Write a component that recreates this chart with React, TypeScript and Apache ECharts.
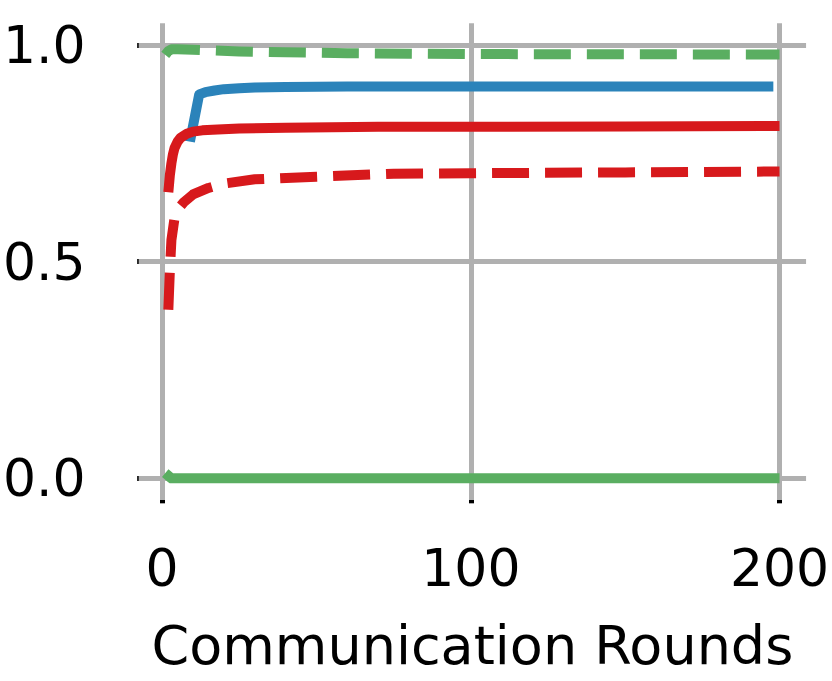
import React, { useEffect, useRef } from "react";
import * as echarts from "echarts";

const xTicks = [0, 100, 200];
const yTicks = [0.0, 0.5, 1.0];
const xTitle = "Communication Rounds";

const greenDashRounds = [1, 2, 3, 5, 10, 25, 40, 60, 80, 100, 150, 200];
const greenDashValues = [0.977, 0.986, 0.99, 0.99, 0.989, 0.985, 0.983, 0.981, 0.98, 0.979, 0.9785, 0.978];

const blueRounds = [9, 12, 14, 17, 20, 25, 30, 40, 60, 100, 150, 198];
const blueValues = [0.777, 0.886, 0.891, 0.895, 0.898, 0.9, 0.902, 0.903, 0.904, 0.904, 0.904, 0.904];

const redRounds = [2, 2.5, 3, 3.5, 4, 5, 6, 8, 10, 13, 18, 25, 40, 70, 100, 150, 200];
const redValues = [0.66, 0.7, 0.727, 0.748, 0.762, 0.777, 0.786, 0.795, 0.8, 0.803, 0.805, 0.807, 0.809, 0.811, 0.811, 0.812, 0.813];

const redDashRounds = [2, 2.5, 3, 4, 5, 7, 10, 15, 20, 30, 50, 75, 100, 150, 200];
const redDashValues = [0.389, 0.48, 0.55, 0.6, 0.62, 0.637, 0.655, 0.67, 0.68, 0.69, 0.696, 0.703, 0.704, 0.706, 0.708];

const greenRounds = [1, 3, 10, 50, 100, 150, 200];
const greenValues = [0.012, 0.0, 0.0, 0.0, 0.0, 0.0, 0.0];

const BLUE = "#2b83ba";
const RED = "#d7191c";
const GREEN = "#5aae61";

const X_MIN = -7.6;
const X_MAX = 208.6;

const zip = (a: number[], b: number[]) => a.map((x, i) => [x, b[i]]);

export default function App() {
  const ref = useRef<HTMLDivElement>(null);
  useEffect(() => {
    document.body.style.margin = "0";
    const chart = echarts.init(ref.current!, null, { renderer: "svg" });
    const font = "DejaVu Sans";
    const mk = (name: string, data: number[][], color: string, dashed: boolean) => ({
      name,
      type: "line",
      data,
      showSymbol: false,
      symbol: "none",
      smooth: false,
      lineStyle: {
        color,
        width: 10,
        type: dashed ? [37, 16] : "solid",
        cap: "butt",
        join: "round",
      },
      z: 10,
    });
    chart.setOption({
      animation: false,
      backgroundColor: "#ffffff",
      grid: { left: 135, right: 25.3, top: 23.3, bottom: 181, containLabel: false },
      xAxis: {
        type: "value",
        min: X_MIN,
        max: X_MAX,
        interval: 100,
        axisLine: { show: false },
        axisTick: { show: true, length: 25, inside: false, lineStyle: { color: "#000", width: 5 }, customValues: xTicks },
        axisLabel: {
          show: true,
          margin: 42,
          fontSize: 52,
          fontFamily: font,
          color: "#000",
          customValues: xTicks,
          formatter: (v: number) => String(v),
        },
        splitLine: { show: false },
        name: xTitle,
        nameLocation: "middle",
        nameGap: 118,
        nameTextStyle: { fontSize: 54, fontFamily: font, color: "#000" },
      },
      yAxis: {
        type: "value",
        min: -0.05,
        max: 1.05,
        axisLine: { show: false },
        axisTick: { show: true, length: 25, inside: false, lineStyle: { color: "#000", width: 5 }, customValues: yTicks },
        axisLabel: {
          show: true,
          margin: 53,
          fontSize: 52,
          fontFamily: font,
          color: "#000",
          customValues: yTicks,
          formatter: (v: number) => v.toFixed(1),
        },
        splitLine: { show: false },
      },
      series: [
        {
          type: "line",
          data: [],
          z: 1,
          markLine: {
            silent: true,
            z: 1,
            symbol: "none",
            label: { show: false },
            lineStyle: { color: "#b0b0b0", width: 5, type: "solid" },
            data: [
              ...yTicks.map((v) => [
                { coord: [X_MIN, v] },
                { coord: [X_MAX, v] },
              ]),
              ...xTicks.map((v) => [
                { coord: [v, -0.05] },
                { coord: [v, 1.05] },
              ]),
            ],
          },
        },
        mk("green-dashed", zip(greenDashRounds, greenDashValues), GREEN, true),
        mk("blue", zip(blueRounds, blueValues), BLUE, false),
        mk("red", zip(redRounds, redValues), RED, false),
        mk("red-dashed", zip(redDashRounds, redDashValues), RED, true),
        mk("green", zip(greenRounds, greenValues), GREEN, false),
      ],
    });
    return () => chart.dispose();
  }, []);
  return <div ref={ref} style={{ width: 832, height: 681 }} />;
}
